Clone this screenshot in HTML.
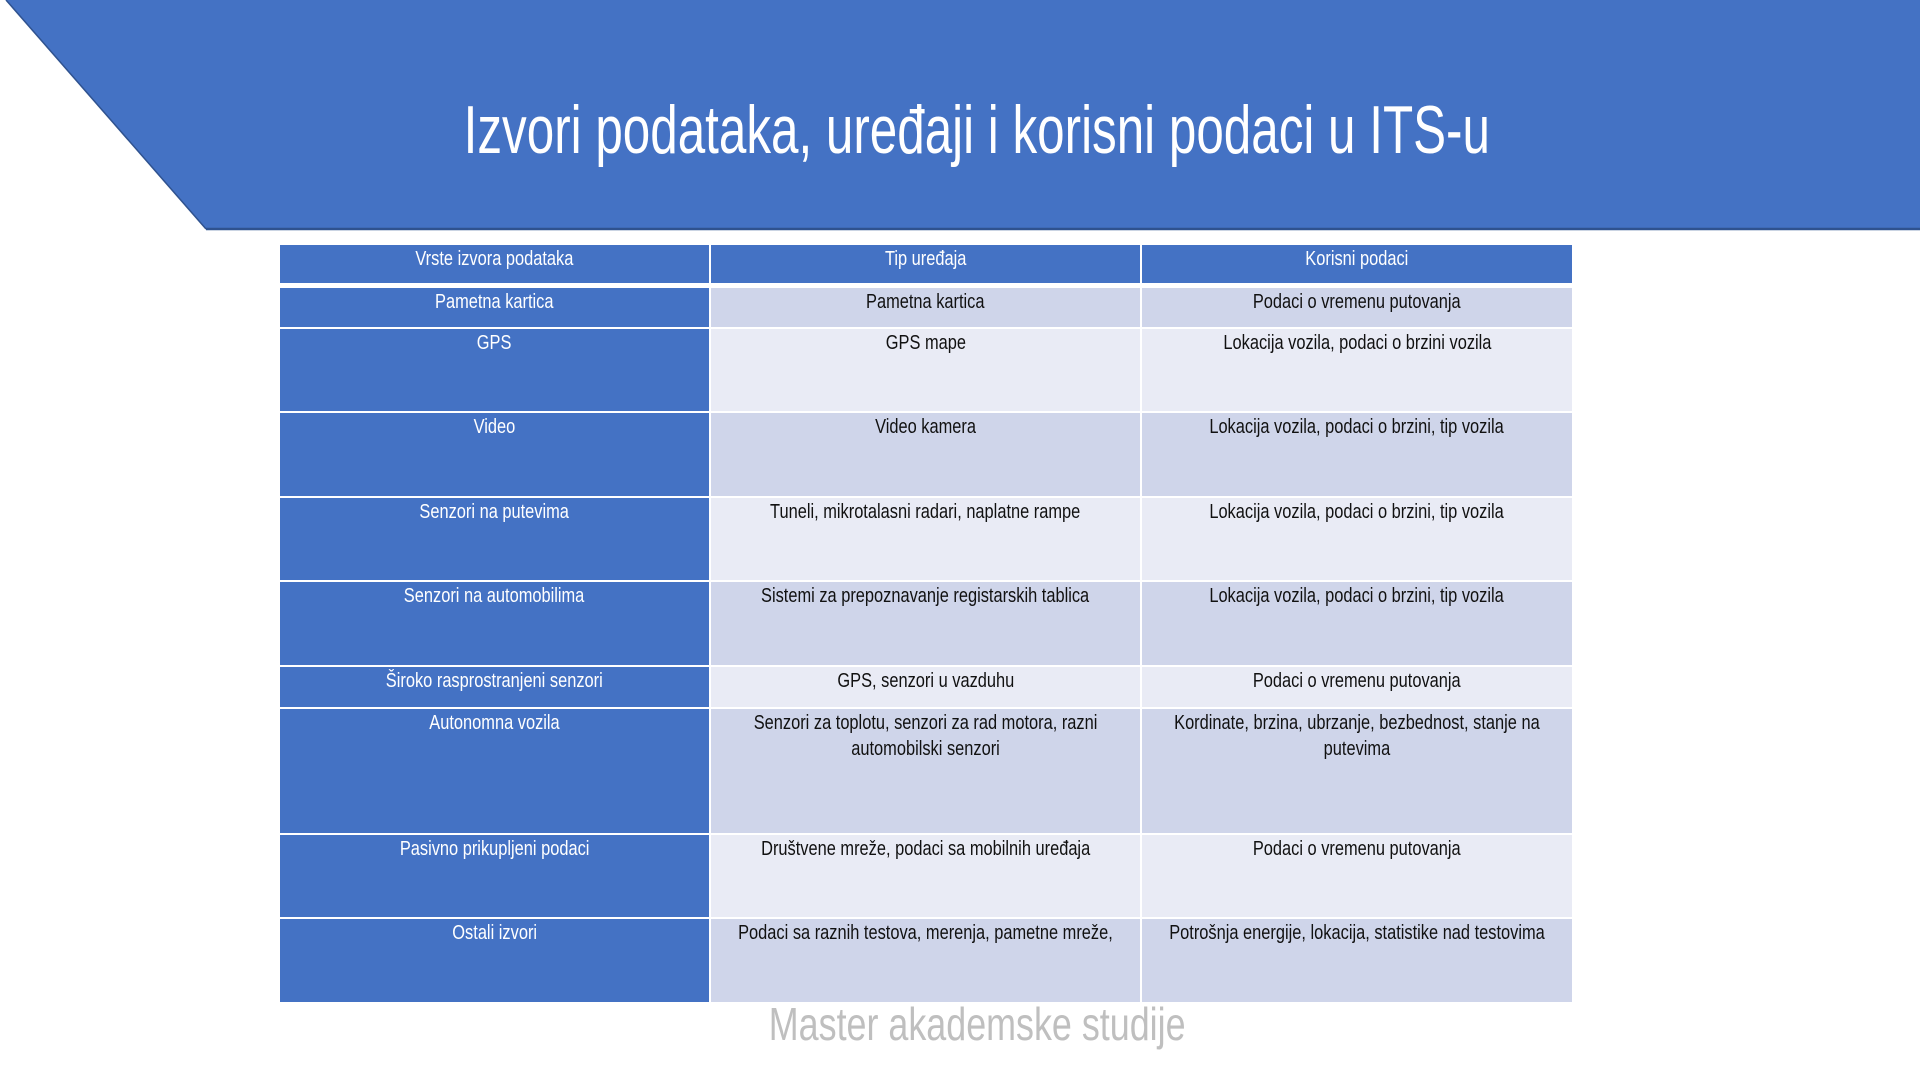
<!DOCTYPE html>
<html><head><meta charset="utf-8"><style>
body{margin:0;width:1920px;height:1080px;background:#fff;position:relative;overflow:hidden;font-family:"Liberation Sans",sans-serif}
.t{position:absolute;left:17px;width:1920px;text-align:center;white-space:nowrap}
.t span{display:inline-block}
.c{position:absolute;overflow:hidden;display:flex;justify-content:center;align-items:flex-start;text-align:center;white-space:nowrap;font-size:20px;line-height:26px;padding-top:1px;box-sizing:border-box}
.c span{display:block;flex:none;transform:scaleX(0.82);transform-origin:center top}
.a{background:#4472c4;color:#fff}
.d{background:#cfd5ea;color:#111}
.l{background:#e9ebf5;color:#111}
</style></head><body>
<svg width="1920" height="240" style="position:absolute;left:0;top:0">
<polygon points="6,0 1920,0 1920,229 206,229" fill="#4472c4"/>
<line x1="6" y1="0" x2="206" y2="229" stroke="#2f528f" stroke-width="1.5"/>
<line x1="206" y1="229" x2="1920" y2="229" stroke="#2f528f" stroke-width="2.5"/>
</svg>
<div class="t" style="top:90px;font-size:68px;line-height:80px;color:#fff"><span style="transform:scaleX(0.726)">Izvori podataka, uređaji i korisni podaci u ITS-u</span></div>

<div class="c a" style="left:280px;top:245px;width:429px;height:38px"><span>Vrste izvora podataka</span></div>
<div class="c a" style="left:711px;top:245px;width:429px;height:38px"><span>Tip uređaja</span></div>
<div class="c a" style="left:1142px;top:245px;width:430px;height:38px"><span>Korisni podaci</span></div>

<div class="c a" style="left:280px;top:288px;width:429px;height:39px"><span>Pametna kartica</span></div>
<div class="c d" style="left:711px;top:288px;width:429px;height:39px"><span>Pametna kartica</span></div>
<div class="c d" style="left:1142px;top:288px;width:430px;height:39px"><span>Podaci o vremenu putovanja</span></div>

<div class="c a" style="left:280px;top:329px;width:429px;height:82px"><span>GPS</span></div>
<div class="c l" style="left:711px;top:329px;width:429px;height:82px"><span>GPS mape</span></div>
<div class="c l" style="left:1142px;top:329px;width:430px;height:82px"><span>Lokacija vozila, podaci o brzini vozila</span></div>

<div class="c a" style="left:280px;top:413px;width:429px;height:83px"><span>Video</span></div>
<div class="c d" style="left:711px;top:413px;width:429px;height:83px"><span>Video kamera</span></div>
<div class="c d" style="left:1142px;top:413px;width:430px;height:83px"><span>Lokacija vozila, podaci o brzini, tip vozila</span></div>

<div class="c a" style="left:280px;top:498px;width:429px;height:82px"><span>Senzori na putevima</span></div>
<div class="c l" style="left:711px;top:498px;width:429px;height:82px"><span>Tuneli, mikrotalasni radari, naplatne rampe</span></div>
<div class="c l" style="left:1142px;top:498px;width:430px;height:82px"><span>Lokacija vozila, podaci o brzini, tip vozila</span></div>

<div class="c a" style="left:280px;top:582px;width:429px;height:83px"><span>Senzori na automobilima</span></div>
<div class="c d" style="left:711px;top:582px;width:429px;height:83px"><span>Sistemi za prepoznavanje registarskih tablica</span></div>
<div class="c d" style="left:1142px;top:582px;width:430px;height:83px"><span>Lokacija vozila, podaci o brzini, tip vozila</span></div>

<div class="c a" style="left:280px;top:667px;width:429px;height:40px"><span>Široko rasprostranjeni senzori</span></div>
<div class="c l" style="left:711px;top:667px;width:429px;height:40px"><span>GPS, senzori u vazduhu</span></div>
<div class="c l" style="left:1142px;top:667px;width:430px;height:40px"><span>Podaci o vremenu putovanja</span></div>

<div class="c a" style="left:280px;top:709px;width:429px;height:124px"><span>Autonomna vozila</span></div>
<div class="c d" style="left:711px;top:709px;width:429px;height:124px"><span>Senzori za toplotu, senzori za rad motora, razni<br>automobilski senzori</span></div>
<div class="c d" style="left:1142px;top:709px;width:430px;height:124px"><span>Kordinate, brzina, ubrzanje, bezbednost, stanje na<br>putevima</span></div>

<div class="c a" style="left:280px;top:835px;width:429px;height:82px"><span>Pasivno prikupljeni podaci</span></div>
<div class="c l" style="left:711px;top:835px;width:429px;height:82px"><span>Društvene mreže, podaci sa mobilnih uređaja</span></div>
<div class="c l" style="left:1142px;top:835px;width:430px;height:82px"><span>Podaci o vremenu putovanja</span></div>

<div class="c a" style="left:280px;top:919px;width:429px;height:83px"><span>Ostali izvori</span></div>
<div class="c d" style="left:711px;top:919px;width:429px;height:83px"><span>Podaci sa raznih testova, merenja, pametne mreže,</span></div>
<div class="c d" style="left:1142px;top:919px;width:430px;height:83px"><span>Potrošnja energije, lokacija, statistike nad testovima</span></div>

<div class="t" style="top:996px;font-size:46px;line-height:56px;color:#bfbfbf"><span style="transform:scaleX(0.78)">Master akademske studije</span></div>
</body></html>
